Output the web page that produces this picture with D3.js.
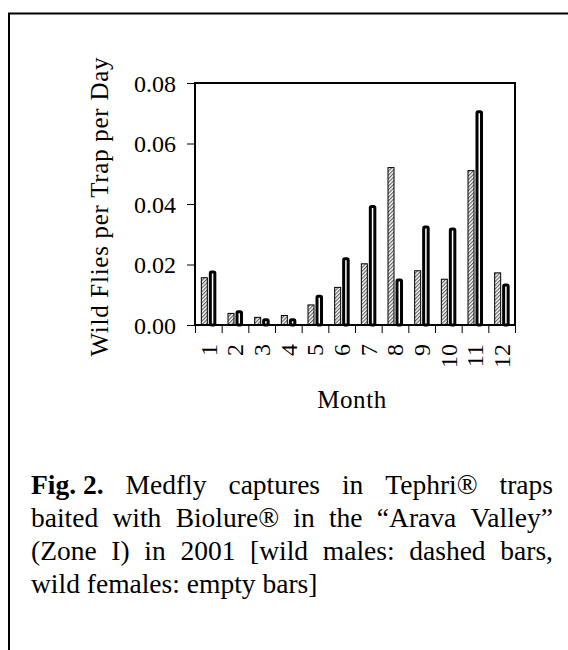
<!DOCTYPE html>
<html>
<head>
<meta charset="utf-8">
<script src="https://cdn.jsdelivr.net/npm/d3@7"></script>
<style>
  html, body { margin: 0; padding: 0; background: #fff; }
  svg { display: block; }
</style>
</head>
<body>
<svg id="chart" width="568" height="650"></svg>
<script>
// ---- data ----
const months = ["1","2","3","4","5","6","7","8","9","10","11","12"];
const wildMales   = [0.0158, 0.0040, 0.0027, 0.0033, 0.0068, 0.0126, 0.0204, 0.0522, 0.0181, 0.0153, 0.0512, 0.0174];
const wildFemales = [0.0180, 0.0049, 0.0022, 0.0022, 0.0100, 0.0224, 0.0397, 0.0154, 0.0329, 0.0322, 0.0710, 0.0137];
const yTicks = [0, 0.02, 0.04, 0.06, 0.08];
const yLabel = "Wild Flies per Trap per Day";
const xLabel = "Month";
const captionBold = "Fig. 2.";
const captionLines = [
  "Medfly captures in Tephri\u00AE traps",
  "baited with Biolure\u00AE in the \u201CArava Valley\u201D",
  "(Zone I) in 2001 [wild males: dashed bars,",
  "wild females: empty bars]"
];

const svg = d3.select("#chart");
const serif = "'Liberation Serif', 'Times New Roman', serif";

// outer page box
svg.append("path")
  .attr("d", "M9,660 L9,13.5 L580,13.5")
  .attr("fill", "none").attr("stroke", "#000").attr("stroke-width", 2);

// hatch pattern for males
const defs = svg.append("defs");
const pat = defs.append("pattern")
  .attr("id", "hatch").attr("patternUnits", "userSpaceOnUse")
  .attr("width", 2.6).attr("height", 2.6)
  .attr("patternTransform", "rotate(45)");
pat.append("rect").attr("width", 2.6).attr("height", 2.6).attr("fill", "#fff");
pat.append("line").attr("x1", 0.6).attr("y1", 0).attr("x2", 0.6).attr("y2", 2.6)
  .attr("stroke", "#555").attr("stroke-width", 1.1);

// scales
const L = 195, R = 515, T = 83, B = 325;
const x0 = d3.scaleBand().domain(months).range([L, R]).paddingInner(0.4).paddingOuter(0.2);
const x1 = d3.scaleBand().domain(["m", "f"]).range([0, x0.bandwidth()]);
const xEdges = d3.scaleLinear().domain([0, months.length]).range([L, R]);
const y = d3.scaleLinear().domain([0, 0.08]).range([B, T]);

// bars
const g = svg.append("g");
months.forEach((m, i) => {
  const gx = x0(m);
  const vm = wildMales[i], vf = wildFemales[i];
  g.append("rect")
    .attr("x", gx + x1("m") + 1).attr("width", x1.bandwidth() - 2)
    .attr("y", y(vm) + 0.5).attr("height", y(0) - y(vm) - 0.5)
    .attr("fill", "url(#hatch)").attr("stroke", "#000").attr("stroke-width", 1);
  g.append("rect")
    .attr("x", gx + x1("f") + 2).attr("width", x1.bandwidth() - 3.5)
    .attr("y", y(vf) + 1.5).attr("height", Math.max(0, y(0) - y(vf) - 1.5))
    .attr("rx", 1.2)
    .attr("fill", "#fff").attr("stroke", "#000").attr("stroke-width", 3);
});

// y axis
const yAxis = svg.append("g").attr("transform", `translate(${L},0)`)
  .call(d3.axisLeft(y).tickValues(yTicks).tickFormat(d3.format(".2f"))
    .tickSize(8).tickPadding(11));
yAxis.select(".domain").remove();
yAxis.selectAll(".tick line").attr("stroke", "#000").attr("stroke-width", 1);
yAxis.selectAll(".tick text")
  .attr("font-family", serif).attr("font-size", 24).attr("fill", "#000")
  .attr("dy", "0.34em");

// x axis tick marks at band edges
const xAxis = svg.append("g").attr("transform", `translate(0,${B})`)
  .call(d3.axisBottom(xEdges).tickValues(d3.range(0, 13)).tickFormat("").tickSize(8));
xAxis.select(".domain").remove();
xAxis.selectAll(".tick line").attr("stroke", "#000").attr("stroke-width", 1);

// month labels (rotated)
svg.append("g").selectAll("text").data(months).join("text")
  .attr("transform", d => `translate(${x0(d) + x0.bandwidth() / 2},${B + 19}) rotate(-90)`)
  .attr("text-anchor", "end").attr("dy", "0.35em")
  .attr("font-family", serif).attr("font-size", 24).attr("fill", "#000")
  .text(d => d);

// plot frame
svg.append("rect")
  .attr("x", L).attr("y", T).attr("width", R - L).attr("height", B - T)
  .attr("fill", "none").attr("stroke", "#000").attr("stroke-width", 2);

// axis titles
svg.append("text")
  .attr("transform", `translate(108,${(T + B) / 2 + 3}) rotate(-90)`)
  .attr("text-anchor", "middle")
  .attr("font-family", serif).attr("font-size", 25).attr("fill", "#000")
  .attr("textLength", 299).attr("lengthAdjust", "spacing")
  .text(yLabel);
svg.append("text")
  .attr("x", 352).attr("y", 408).attr("text-anchor", "middle")
  .attr("font-family", serif).attr("font-size", 25).attr("letter-spacing", 0.6)
  .attr("fill", "#000")
  .text(xLabel);

// caption (justified)
const capL = 31, capR = 553, capTop = 494, capLH = 33, capFS = 27.5;
captionLines.forEach((line, li) => {
  const words = line.split(" ");
  const items = [];
  if (li === 0) items.push({ t: captionBold, bold: true });
  words.forEach(w => items.push({ t: w, bold: false }));
  const yy = capTop + li * capLH;
  const nodes = items.map(it => svg.append("text")
    .attr("y", yy).attr("font-family", serif).attr("font-size", capFS)
    .attr("font-weight", it.bold ? "bold" : "normal").attr("fill", "#000")
    .text(it.t));
  const widths = nodes.map(n => n.node().getComputedTextLength());
  const total = d3.sum(widths);
  const last = li === captionLines.length - 1;
  const gap = last ? capFS * 0.25 : (capR - capL - total) / (items.length - 1);
  let cx = capL;
  nodes.forEach((n, k) => { n.attr("x", cx); cx += widths[k] + gap; });
});
</script>
</body>
</html>
